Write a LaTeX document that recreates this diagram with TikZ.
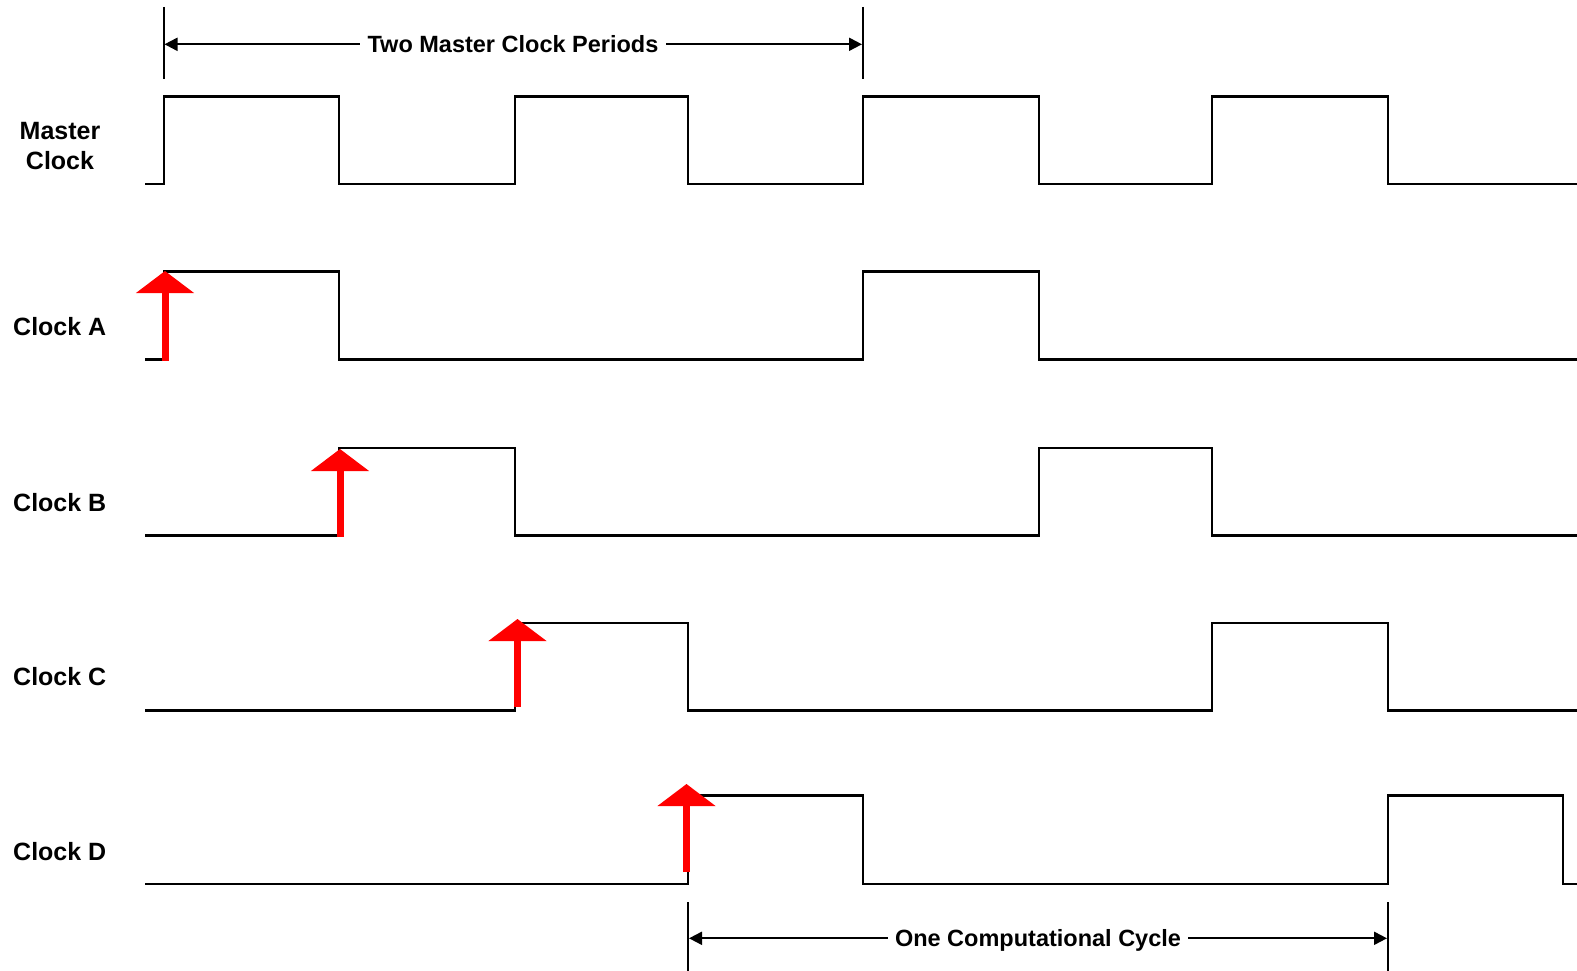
\documentclass[tikz,border=0pt]{standalone}
\usepackage{fontspec}
\setmainfont{Liberation Sans}
\usetikzlibrary{arrows.meta}
\tikzset{
  wave/.style={line width=2.3pt, line join=miter, black},
  tick/.style={line width=2pt, black},
  dimline/.style={line width=2pt, black},
  dimtip/.style={{Triangle[length=13pt,width=13pt]}-},
  dimtext/.style={inner xsep=7pt, inner ysep=0pt, font=\fontsize{23.5}{28}\selectfont\bfseries},
  siglabel/.style={inner sep=0pt, font=\fontsize{25}{30}\selectfont\bfseries},
  edgearrow/.style={draw=red, line width=7pt, -{Triangle[length=22pt,width=57pt]}}
}
\begin{document}
\begin{tikzpicture}[x=1pt,y=-1pt]
\useasboundingbox (0,0) rectangle (1577,971);
% waveforms
\draw[wave] (145,184) -| (164,96.5) -| (339,184) -| (515,96.5) -| (688,184) -| (863,96.5) -| (1039,184) -| (1212,96.5) -| (1388,184) -- (1578,184);
\draw[wave] (145,359.5) -| (164,271.5) -| (339,359.5) -| (863,271.5) -| (1039,359.5) -- (1578,359.5);
\draw[wave] (145,535.5) -| (339,448) -| (515,535.5) -| (1039,448) -| (1212,535.5) -- (1578,535.5);
\draw[wave] (145,710.5) -| (515,623) -| (688,710.5) -| (1212,623) -| (1388,710.5) -- (1578,710.5);
\draw[wave] (145,884) -| (688,795.5) -| (863,884) -| (1388,795.5) -| (1563,884) -- (1578,884);
% labels
\node[siglabel, align=center] (lm) at (60,146) {Master\\Clock};
\node[siglabel, anchor=base west] (la) at (13,335) {Clock A};
\node[siglabel, anchor=base west] (lb) at (13,511) {Clock B};
\node[siglabel, anchor=base west] (lc) at (13,685) {Clock C};
\node[siglabel, anchor=base west] (ld) at (13,860) {Clock D};
% top dimension
\coordinate (t1a) at (163.5,7); \coordinate (t1b) at (163.5,79);
\coordinate (t2a) at (863,7); \coordinate (t2b) at (863,79);
\draw[tick] (t1a) -- (t1b);
\draw[tick] (t2a) -- (t2b);
\coordinate (tl) at (164.5,44.3);
\coordinate (tr) at (862,44.3);
\node[dimtext] (tt) at (513,44.3) {Two Master Clock Periods};
\draw[dimline, dimtip] (tl) -- (tt.west);
\draw[dimline, dimtip] (tr) -- (tt.east);
% bottom dimension
\coordinate (b1a) at (688,902); \coordinate (b1b) at (688,972);
\coordinate (b2a) at (1388,902); \coordinate (b2b) at (1388,972);
\draw[tick] (b1a) -- (b1b);
\draw[tick] (b2a) -- (b2b);
\coordinate (bl) at (689,938.3);
\coordinate (br) at (1387,938.3);
\node[dimtext, text height=17pt, text depth=0pt] (bt) at (1038,938.3) {\raisebox{0pt}[0pt][0pt]{One Computational Cycle}};
\draw[dimline, dimtip] (bl) -- (bt.west);
\draw[dimline, dimtip] (br) -- (bt.east);
% red edge arrows
\coordinate (a0) at (165,361); \coordinate (a1) at (165,271);
\coordinate (b0) at (340,536.5); \coordinate (b1) at (340,449);
\coordinate (c0) at (517.5,706.5); \coordinate (c1) at (517.5,619);
\coordinate (d0) at (686.5,872); \coordinate (d1) at (686.5,784);
\draw[edgearrow] (a0) -- (a1);
\draw[edgearrow] (b0) -- (b1);
\draw[edgearrow] (c0) -- (c1);
\draw[edgearrow] (d0) -- (d1);
\end{tikzpicture}
\end{document}
